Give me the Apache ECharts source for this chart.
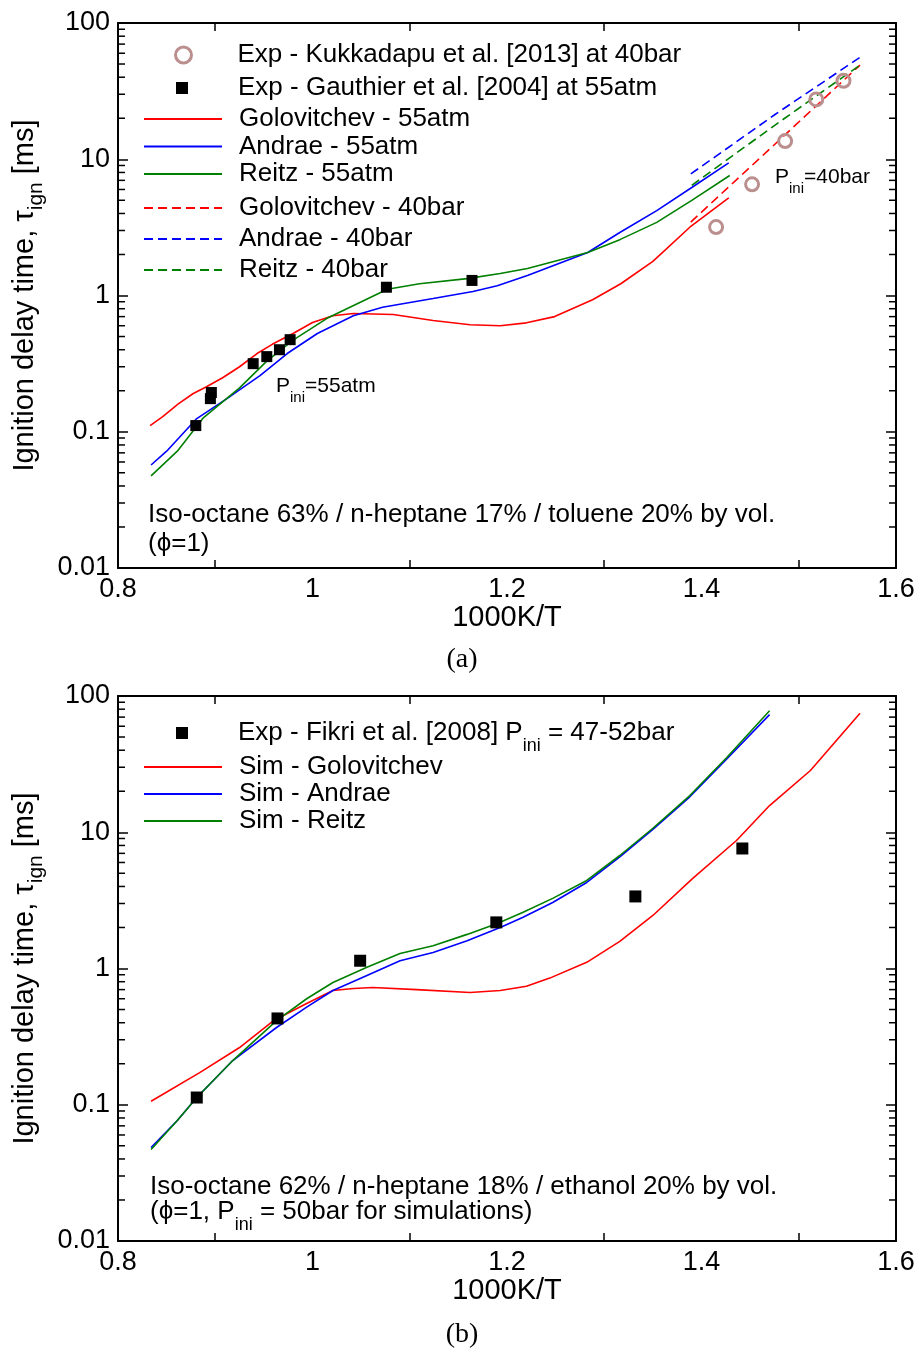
<!DOCTYPE html>
<html><head><meta charset="utf-8">
<script src="https://cdn.jsdelivr.net/npm/echarts@6/dist/echarts.min.js"></script>
<style>html,body{margin:0;padding:0;background:#fff}#c{width:920px;height:1350px}</style>
</head><body><div id="c"></div>
<script>
// ---------- Chart (a) data ----------
const kukkadapuX = [1.415, 1.452, 1.486, 1.518, 1.546];
const kukkadapuY = [3.18, 6.55, 13.6, 27.5, 37.7];
const gauthierX = [0.880, 0.895, 0.896, 0.939, 0.953, 0.966, 0.977, 1.076, 1.164];
const gauthierY = [0.111, 0.175, 0.194, 0.316, 0.356, 0.40, 0.474, 1.15, 1.29];
const golo55X = [0.833, 0.846, 0.862, 0.877, 0.891, 0.908, 0.925, 0.943, 0.959, 0.98, 1.0, 1.021, 1.042, 1.083, 1.124, 1.162, 1.193, 1.22, 1.249, 1.288, 1.317, 1.35, 1.388, 1.428];
const golo55Y = [0.111, 0.129, 0.16, 0.19, 0.214, 0.25, 0.30, 0.375, 0.44, 0.526, 0.634, 0.71, 0.737, 0.725, 0.655, 0.61, 0.60, 0.63, 0.70, 0.93, 1.22, 1.78, 3.17, 5.2];
const andrae55X = [0.834, 0.85, 0.881, 0.912, 0.946, 0.974, 1.005, 1.042, 1.072, 1.124, 1.165, 1.19, 1.221, 1.283, 1.316, 1.354, 1.39, 1.428];
const andrae55Y = [0.057, 0.072, 0.125, 0.175, 0.258, 0.375, 0.526, 0.71, 0.82, 0.95, 1.07, 1.18, 1.40, 2.07, 2.9, 4.2, 6.2, 9.4];
const reitz55X = [0.834, 0.861, 0.888, 0.925, 0.953, 0.98, 1.015, 1.046, 1.077, 1.11, 1.159, 1.193, 1.221, 1.283, 1.316, 1.354, 1.39, 1.429];
const reitz55Y = [0.0475, 0.072, 0.127, 0.21, 0.33, 0.47, 0.68, 0.87, 1.11, 1.22, 1.33, 1.45, 1.58, 2.07, 2.57, 3.44, 4.99, 7.6];
const golo40X = [1.389, 1.476, 1.563];
const golo40Y = [3.46, 13.0, 49.1];
const andrae40X = [1.389, 1.476, 1.563];
const andrae40Y = [7.8, 21.4, 56];
const reitz40X = [1.39, 1.476, 1.563];
const reitz40Y = [6.44, 17.9, 49.1];

// ---------- Chart (b) data ----------
const fikriX = [0.881, 0.964, 1.049, 1.189, 1.332, 1.442];
const fikriY = [0.113, 0.43, 1.14, 2.18, 3.38, 7.6];
const goloBX = [0.834, 0.884, 0.925, 0.96, 0.994, 1.021, 1.042, 1.062, 1.107, 1.162, 1.193, 1.22, 1.244, 1.282, 1.316, 1.35, 1.391, 1.436, 1.47, 1.512, 1.563];
const goloBY = [0.106, 0.172, 0.263, 0.415, 0.553, 0.69, 0.713, 0.725, 0.70, 0.667, 0.69, 0.74, 0.85, 1.11, 1.58, 2.45, 4.58, 8.7, 15.7, 28.4, 74.6];
const andraeBX = [0.834, 0.861, 0.881, 0.918, 0.963, 0.994, 1.021, 1.056, 1.09, 1.124, 1.159, 1.193, 1.216, 1.247, 1.282, 1.316, 1.35, 1.388, 1.426, 1.47];
const andraeBY = [0.0486, 0.0766, 0.113, 0.211, 0.369, 0.52, 0.69, 0.89, 1.14, 1.31, 1.6, 2.0, 2.37, 3.05, 4.28, 6.6, 10.5, 18.2, 34.5, 73];
const reitzBX = [0.834, 0.861, 0.881, 0.918, 0.963, 0.994, 1.021, 1.056, 1.09, 1.124, 1.159, 1.19, 1.216, 1.247, 1.282, 1.316, 1.35, 1.388, 1.426, 1.47];
const reitzBY = [0.047, 0.0766, 0.113, 0.211, 0.415, 0.60, 0.79, 1.02, 1.29, 1.47, 1.78, 2.14, 2.58, 3.27, 4.43, 6.75, 10.7, 18.6, 35.4, 78];

// ---------- axis tick values ----------
const yMinorTicks = [0.02,0.03,0.04,0.05,0.06,0.07,0.08,0.09, 0.2,0.3,0.4,0.5,0.6,0.7,0.8,0.9, 2,3,4,5,6,7,8,9, 20,30,40,50,60,70,80,90];

const FONT = "'Liberation Sans', Arial, Helvetica, sans-serif";
const SERIF = "'Liberation Serif', 'DejaVu Serif', serif";
const RED = '#ff0000', BLUE = '#0000ff', GREEN = '#008000', ROSY = '#bc8f8f';
const zip = (xs, ys) => xs.map((x, i) => [x, ys[i]]);

function xAxes(g) {
  const base = {
    gridIndex: g, type: 'value', min: 0.8, max: 1.6, interval: 0.2,
    axisLine: { show: true, onZero: false, lineStyle: { color: '#000', width: 2 } },
    axisTick: { show: false, inside: true },
    minorTick: { show: true, splitNumber: 2, length: 8, lineStyle: { color: '#000', width: 1.5 } },
    splitLine: { show: false }, minorSplitLine: { show: false }
  };
  return [
    Object.assign({}, base, {
      position: 'bottom',
      axisLabel: { fontSize: 27, color: '#000', fontFamily: FONT, margin: 8 },
      name: '1000K/T', nameLocation: 'middle', nameGap: 33,
      nameTextStyle: { fontSize: 29, color: '#000', fontFamily: FONT }
    }),
    Object.assign({}, base, { position: 'top', axisLabel: { show: false } })
  ];
}
function yAxes(g) {
  const base = {
    gridIndex: g, type: 'log', logBase: 10, min: 0.01, max: 100,
    axisLine: { show: true, onZero: false, lineStyle: { color: '#000', width: 2 } },
    axisTick: { show: true, inside: true, length: 10, lineStyle: { color: '#000', width: 1.5 } },
    splitLine: { show: false }, minorTick: { show: false }
  };
  return [
    Object.assign({}, base, {
      position: 'left',
      axisLabel: { fontSize: 27, color: '#000', fontFamily: FONT, margin: 8,
        formatter: v => String(+(+v).toPrecision(6)) },
      name: 'Ignition delay time, \u03c4{sub|ign} [ms]', nameLocation: 'middle', nameGap: 76, nameRotate: 90,
      nameTextStyle: { fontSize: 29, color: '#000', fontFamily: FONT, lineHeight: 29,
        rich: { sub: { fontSize: 21, fontFamily: FONT, color: '#000', lineHeight: 29, verticalAlign: 'top', padding: [15, 0, 0, 0] } } }
    }),
    Object.assign({}, base, { position: 'right', axisLabel: { show: false } })
  ];
}
function minorTickSeries(g) {
  return {
    type: 'custom', name: '_minor' + g, xAxisIndex: g * 2, yAxisIndex: g * 2, silent: true, z: 5, clip: false,
    data: yMinorTicks.map(v => [0.8, v]), encode: { x: 0, y: 1 },
    renderItem: (params, api) => {
      const cs = params.coordSys;
      const y = api.coord([0.8, api.value(1)])[1];
      const st = { stroke: '#000', lineWidth: 1.5 };
      return { type: 'group', children: [
        { type: 'line', shape: { x1: cs.x, y1: y, x2: cs.x + 7, y2: y }, style: st },
        { type: 'line', shape: { x1: cs.x + cs.width - 7, y1: y, x2: cs.x + cs.width, y2: y }, style: st }
      ] };
    }
  };
}
function line(name, g, xs, ys, color, dashed) {
  return { type: 'line', name, xAxisIndex: g * 2, yAxisIndex: g * 2, data: zip(xs, ys),
    symbol: 'none', showSymbol: false, z: 3,
    lineStyle: { color, width: 1.6, type: dashed ? [9, 5] : 'solid' }, itemStyle: { color } };
}
const subRichLegend = { sub: { fontSize: 18, fontFamily: FONT, color: '#000', lineHeight: 26, verticalAlign: 'top', padding: [17, 0, 0, 0] } };
// names, top, itemGap, icon width, icon height, left, text padding, hide line-symbol
function legend(names, top, gap, w, h, left, pad, isLine, extraItemStyle) {
  const l = { orient: 'vertical', left, top, itemGap: gap, itemWidth: w, itemHeight: h, padding: 0,
    selectedMode: false, data: names,
    formatter: n => n.replace('P_ini', 'P{sub|ini}'),
    textStyle: { fontSize: 26, fontFamily: FONT, color: '#000', lineHeight: 26, padding: [0, 0, 0, pad], rich: subRichLegend } };
  if (isLine) l.itemStyle = { opacity: 0 };
  if (extraItemStyle) l.itemStyle = extraItemStyle;
  return l;
}
function txt(x, y, text, size, rich, family) {
  return { type: 'text', x, y, silent: true, z: 10,
    style: { text, fill: '#000', fontSize: size, fontFamily: family || FONT, lineHeight: size,
      verticalAlign: 'middle', align: 'left', rich: rich || {} } };
}
const subAnn = { sub: { fontSize: 15, fontFamily: FONT, fill: '#000', lineHeight: 21, verticalAlign: 'top', padding: [15, 0, 0, 0] } };
const subAnn26 = { sub: { fontSize: 18, fontFamily: FONT, fill: '#000', lineHeight: 26, verticalAlign: 'top', padding: [17, 0, 0, 0] } };

const option = {
  animation: false,
  backgroundColor: '#fff',
  grid: [
    { left: 118, top: 23, width: 778, height: 545, containLabel: false },
    { left: 118, top: 696, width: 778, height: 545, containLabel: false }
  ],
  xAxis: [...xAxes(0), ...xAxes(1)],
  yAxis: [...yAxes(0), ...yAxes(1)],
  legend: [
    legend(['Exp - Kukkadapu et al. [2013] at 40bar'], 42, 0, 16, 16, 174, 41, false,
      { color: 'rgba(255,255,255,0)', borderColor: ROSY, borderWidth: 3 }),
    legend(['Exp - Gauthier et al. [2004] at 55atm'], 75, 0, 12, 12, 176, 45, false),
    legend(['Golovitchev - 55atm', 'Andrae - 55atm', 'Reitz - 55atm'], 106, 1.5, 78, 14, 143, 12, true),
    legend(['Golovitchev - 40bar', 'Andrae - 40bar', 'Reitz - 40bar'], 195, 5, 78, 14, 143, 12, true),
    legend(['Exp - Fikri et al. [2008] P_ini = 47-52bar'], 720, 0, 12, 12, 176, 45, false),
    legend(['Sim - Golovitchev', 'Sim - Andrae', 'Sim - Reitz'], 754, 1, 78, 14, 143, 12, true)
  ],
  graphic: [
    txt(276, 386, 'P{sub|ini}=55atm', 21, subAnn),
    txt(775, 177, 'P{sub|ini}=40bar', 21, subAnn),
    txt(148, 515, 'Iso-octane 63% / n-heptane 17% / toluene 20% by vol.', 26),
    txt(148, 544, '(\u03d5=1)', 26),
    txt(150, 1187, 'Iso-octane 62% / n-heptane 18% / ethanol 20% by vol.', 26),
    txt(150, 1212, '(\u03d5=1, P{sub|ini} = 50bar for simulations)', 26, subAnn26),
    { type: 'text', x: 462, y: 660, silent: true, style: { text: '(a)', fill: '#000', fontSize: 28, fontFamily: SERIF, align: 'center', verticalAlign: 'middle' } },
    { type: 'text', x: 462, y: 1335, silent: true, style: { text: '(b)', fill: '#000', fontSize: 28, fontFamily: SERIF, align: 'center', verticalAlign: 'middle' } }
  ],
  series: [
    minorTickSeries(0), minorTickSeries(1),
    line('Golovitchev - 55atm', 0, golo55X, golo55Y, RED, false),
    line('Andrae - 55atm', 0, andrae55X, andrae55Y, BLUE, false),
    line('Reitz - 55atm', 0, reitz55X, reitz55Y, GREEN, false),
    line('Golovitchev - 40bar', 0, golo40X, golo40Y, RED, true),
    line('Andrae - 40bar', 0, andrae40X, andrae40Y, BLUE, true),
    line('Reitz - 40bar', 0, reitz40X, reitz40Y, GREEN, true),
    { type: 'scatter', name: 'Exp - Kukkadapu et al. [2013] at 40bar', xAxisIndex: 0, yAxisIndex: 0,
      data: zip(kukkadapuX, kukkadapuY), symbol: 'circle', symbolSize: 13, z: 4,
      itemStyle: { color: 'rgba(255,255,255,0)', borderColor: ROSY, borderWidth: 3, opacity: 1 } },
    { type: 'scatter', name: 'Exp - Gauthier et al. [2004] at 55atm', xAxisIndex: 0, yAxisIndex: 0,
      data: zip(gauthierX, gauthierY), symbol: 'rect', symbolSize: 11, z: 4, itemStyle: { color: '#000', opacity: 1 } },
    line('Sim - Golovitchev', 1, goloBX, goloBY, RED, false),
    line('Sim - Andrae', 1, andraeBX, andraeBY, BLUE, false),
    line('Sim - Reitz', 1, reitzBX, reitzBY, GREEN, false),
    { type: 'scatter', name: 'Exp - Fikri et al. [2008] P_ini = 47-52bar', xAxisIndex: 2, yAxisIndex: 2,
      data: zip(fikriX, fikriY), symbol: 'rect', symbolSize: 12, z: 4, itemStyle: { color: '#000', opacity: 1 } }
  ]
};
const chart = echarts.init(document.getElementById('c'), null, { renderer: 'canvas' });
chart.setOption(option);
</script></body></html>
